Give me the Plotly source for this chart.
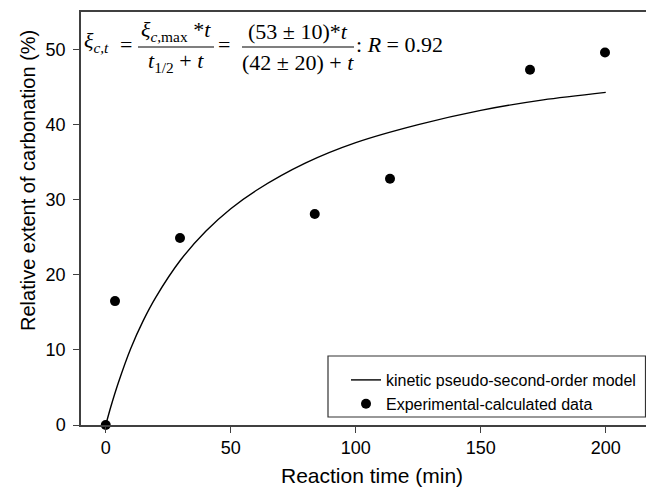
import plotly.graph_objects as go

# ---- data ----
curve_t = [0, 2, 5, 10, 15, 20, 30, 40, 50, 60, 80, 100, 125, 150, 175, 200]
curve_y = [0, 2.4, 5.6, 10.2, 13.9, 17.0, 22.0, 25.8, 28.8, 31.2, 34.9, 37.6, 40.0, 41.9, 43.3, 44.3]

exp_t = [0, 3.7, 29.7, 83.6, 113.7, 169.7, 199.7]
exp_y = [0, 16.5, 24.9, 28.1, 32.8, 47.3, 49.6]

x_ticks = [0, 50, 100, 150, 200]
y_ticks = [0, 10, 20, 30, 40, 50]

line_name = "kinetic pseudo-second-order model"
pts_name = "Experimental-calculated data"
x_title = "Reaction time (min)"
y_title = "Relative extent of carbonation (%)"

# ---- layout geometry (pixels) ----
W, H = 646, 488
ML, MR, MT, MB = 81, 0, 12, 63
PW, PH = W - ML - MR, H - MT - MB


def px(xpix):
    return (xpix - ML) / PW


def py(ypix):
    return (H - MB - ypix) / PH


SANS = "Liberation Sans, Arial, sans-serif"
SERIF = "Liberation Serif, Times New Roman, serif"
AXC = "#404040"

fig = go.Figure()
fig.add_trace(go.Scatter(
    x=curve_t, y=curve_y, mode="lines", name=line_name,
    line=dict(color="black", width=1.4, shape="spline", smoothing=0.8),
))
fig.add_trace(go.Scatter(
    x=exp_t, y=exp_y, mode="markers", name=pts_name,
    marker=dict(color="black", size=10), cliponaxis=False,
))

eq_font = dict(family=SERIF, size=22, color="black")
ann = []


def add(text, xpix, ypix, xanchor="center", font=eq_font, angle=0):
    ann.append(dict(text=text, x=px(xpix), y=py(ypix), xref="paper", yref="paper",
                    xanchor=xanchor, yanchor="middle", showarrow=False, font=font,
                    textangle=angle))


add("<i>ξ</i><sub><i>c,t</i></sub>", 82, 42, "left")
add("=", 126, 45)
add("<i>ξ</i><sub><i>c</i>,max</sub> *<i>t</i>", 176, 31)
add("<i>t</i><sub>1/2</sub> + <i>t</i>", 176, 62)
add("=", 224, 45)
add("(53 ± 10)*<i>t</i>", 298, 32)
add("(42 ± 20) + <i>t</i>", 298, 62)
add(": <i>R</i> = 0.92", 354, 45, "left")

title_font = dict(family=SANS, size=20, color="black")
add(x_title, 372, 475, "center", dict(family=SANS, size=21, color="black"))
add(y_title, 28, 181, "center", title_font, -90)

shapes = [
    dict(type="line", xref="paper", yref="paper", x0=px(138), x1=px(214), y0=py(47), y1=py(47),
         line=dict(color="black", width=1.2)),
    dict(type="line", xref="paper", yref="paper", x0=px(242), x1=px(354), y0=py(47), y1=py(47),
         line=dict(color="black", width=1.2)),
    dict(type="rect", xref="paper", yref="paper", x0=px(328), x1=px(645.5), y0=py(417), y1=py(356),
         line=dict(color="#333333", width=1.2), fillcolor="rgba(0,0,0,0)", layer="below"),
]

fig.update_layout(
    width=W, height=H,
    margin=dict(l=ML, r=MR, t=MT, b=MB, pad=0, autoexpand=False),
    paper_bgcolor="white", plot_bgcolor="white",
    font=dict(family=SANS, size=17, color="black"),
    showlegend=True,
    legend=dict(x=px(346), y=py(392), xanchor="left", yanchor="middle",
                bgcolor="rgba(0,0,0,0)", borderwidth=0,
                font=dict(family=SANS, size=16, color="black"),
                tracegroupgap=0, itemwidth=30),
    annotations=ann,
    shapes=shapes,
    xaxis=dict(
        range=[-9.9, 216.1], tickvals=x_ticks, ticktext=[str(v) for v in x_ticks],
        showgrid=False, zeroline=False, showline=True, linecolor=AXC, linewidth=1.5,
        mirror=True, ticks="outside", ticklen=6, tickcolor=AXC, tickwidth=1.2,
        tickfont=dict(family=SANS, size=18),
    ),
    yaxis=dict(
        range=[0, 55], tickvals=y_ticks, ticktext=[str(v) for v in y_ticks],
        showgrid=False, zeroline=False, showline=True, linecolor=AXC, linewidth=1.5,
        mirror=False, ticks="outside", ticklen=6, tickcolor=AXC, tickwidth=1.2,
        tickfont=dict(family=SANS, size=18), ticklabelstandoff=4,
    ),
)

fig.write_html("out.html", config={"displayModeBar": False},
               post_script="document.body.style.margin='0';document.body.style.overflow='hidden';")
